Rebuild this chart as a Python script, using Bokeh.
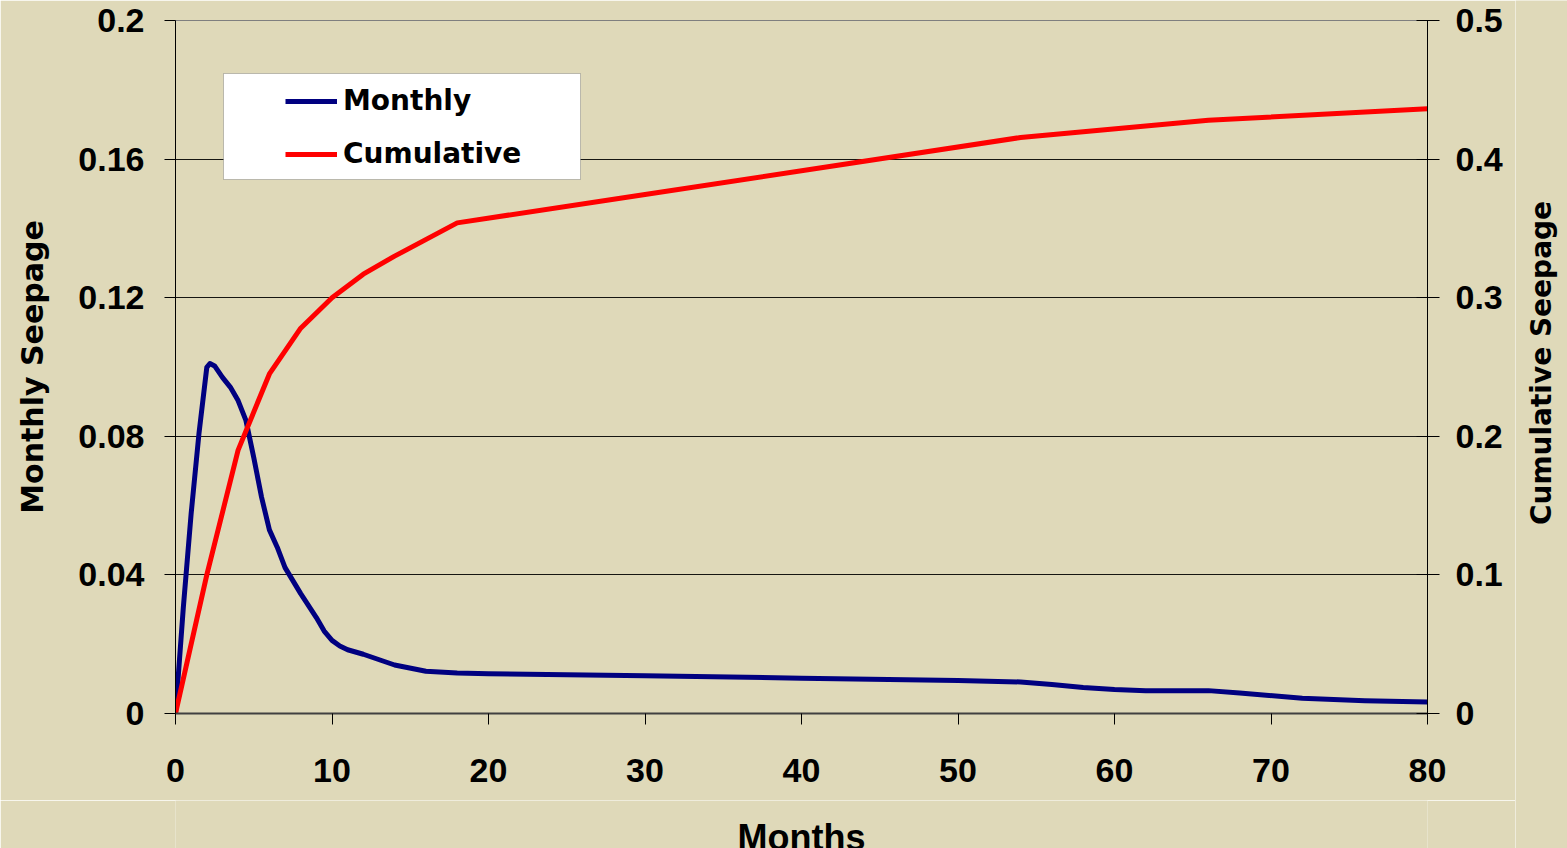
import math
from bokeh.plotting import figure
from bokeh.layouts import row, column
from bokeh.models import (LinearAxis, Range1d, FixedTicker, NumeralTickFormatter,
                          Legend, LegendItem, BoxAnnotation)
from bokeh.core.properties import value
from bokeh.embed import file_html
from bokeh.resources import INLINE

# ---- data ----
monthly_months = [0, 0.5, 1, 1.5, 2, 2.2, 2.5, 3, 3.5, 4, 4.5, 5, 5.5, 6, 6.5, 7, 8, 9,
                  9.5, 10, 10.5, 11, 12, 14, 16, 18, 20, 30, 40, 50, 54, 56, 58, 60,
                  62, 66, 68, 72, 76, 80]
monthly_seepage = [0.0, 0.0306, 0.0577, 0.0808, 0.0999, 0.101, 0.1003, 0.097, 0.0942,
                   0.0903, 0.0846, 0.0739, 0.0624, 0.053, 0.048, 0.0421, 0.0346,
                   0.0277, 0.0238, 0.0211, 0.0195, 0.0184, 0.0171, 0.0140, 0.0122,
                   0.0117, 0.0115, 0.0109, 0.0102, 0.0095, 0.0091, 0.0084, 0.0075,
                   0.0069, 0.0066, 0.0066, 0.0059, 0.0044, 0.0037, 0.0033]

cumulative_months = [0, 2, 4, 6, 8, 10, 12, 14, 18, 30, 42, 54, 66, 80]
cumulative_seepage = [0.0, 0.100, 0.190, 0.245, 0.278, 0.300, 0.317, 0.330, 0.354,
                      0.3745, 0.395, 0.4156, 0.428, 0.4363]

x_ticks = [0, 10, 20, 30, 40, 50, 60, 70, 80]
left_ticks = [0, 0.04, 0.08, 0.12, 0.16, 0.2]
right_ticks = [0, 0.1, 0.2, 0.3, 0.4, 0.5]

x_title = "Months"
left_title = "Monthly Seepage"
right_title = "Cumulative Seepage"

BG = "#DFD9B9"
TICK_FONT = "Liberation Sans"
LABEL_FONT = "DejaVu Sans"

p = figure(width=1515, height=800, output_backend="svg", toolbar_location=None,
           x_range=Range1d(0, 80), y_range=Range1d(0, 0.2),
           min_border_left=175, min_border_right=88, min_border_top=20,
           min_border_bottom=87,
           background_fill_color=BG, border_fill_color=BG)
p.extra_y_ranges = {"cum": Range1d(0, 0.5)}
p.outline_line_color = "#7f7f7f"
p.outline_line_width = 1

p.xgrid.visible = False
p.ygrid.grid_line_color = "black"
p.ygrid.grid_line_width = 1
p.ygrid.grid_line_alpha = 0.9

# bottom axis
xa = p.xaxis[0]
xa.ticker = FixedTicker(ticks=x_ticks)
xa.axis_line_color = "#404040"
xa.axis_line_width = 2
xa.major_tick_in = 0
xa.major_tick_out = 11
xa.major_tick_line_color = "black"
xa.minor_tick_line_color = None
xa.major_label_text_font = TICK_FONT
xa.major_label_text_font_style = "bold"
xa.major_label_text_font_size = "34px"
xa.major_label_text_color = "black"
xa.major_label_standoff = 34

# left axis
ya = p.yaxis[0]
ya.ticker = FixedTicker(ticks=left_ticks)
ya.formatter = NumeralTickFormatter(format="0.[00]")
ya.axis_line_color = "black"
ya.axis_line_width = 1
ya.major_tick_in = 0
ya.major_tick_out = 11
ya.major_tick_line_color = "black"
ya.minor_tick_line_color = None
ya.major_label_text_font = TICK_FONT
ya.major_label_text_font_style = "bold"
ya.major_label_text_font_size = "34px"
ya.major_label_text_color = "black"
ya.major_label_standoff = 20
ya.axis_label = left_title
ya.axis_label_text_font = LABEL_FONT
ya.axis_label_text_font_style = "bold"
ya.axis_label_text_font_size = "30px"
ya.axis_label_text_color = "black"
ya.axis_label_standoff = 25

# right axis
ra = LinearAxis(y_range_name="cum", ticker=FixedTicker(ticks=right_ticks),
                formatter=NumeralTickFormatter(format="0.[0]"))
ra.axis_line_color = "black"
ra.axis_line_width = 1
ra.major_tick_in = 11
ra.major_tick_out = 12
ra.major_tick_line_color = "black"
ra.minor_tick_line_color = None
ra.major_label_text_font = TICK_FONT
ra.major_label_text_font_style = "bold"
ra.major_label_text_font_size = "34px"
ra.major_label_text_color = "black"
ra.major_label_standoff = 16
p.add_layout(ra, "right")

# series
r1 = p.line(monthly_months, monthly_seepage, line_color="#000080", line_width=5,
            line_join="round")
r2 = p.line(cumulative_months, cumulative_seepage, line_color="#FF0000", line_width=5,
            line_join="round", y_range_name="cum")

# legend box + legend
box = BoxAnnotation(left=48, right=405, top=640, bottom=534,
                    left_units="screen", right_units="screen",
                    top_units="screen", bottom_units="screen",
                    fill_color="white", fill_alpha=1.0,
                    line_color="#404040", line_width=1, level="annotation")
p.add_layout(box)

legend = Legend(items=[LegendItem(label="Monthly", renderers=[r1]),
                       LegendItem(label="Cumulative", renderers=[r2])],
                location=(110, 543), padding=0, margin=0, spacing=20,
                glyph_width=52, glyph_height=30, label_height=30, label_standoff=6,
                label_text_font=LABEL_FONT, label_text_font_style="bold",
                label_text_font_size="28px", label_text_color="black",
                background_fill_alpha=0, border_line_alpha=0)
p.add_layout(legend)

# strip under the chart holding the x-axis title (cut by the page edge as in the reference)
pb = figure(width=1515, height=48, output_backend="svg", toolbar_location=None,
            x_range=p.x_range, y_range=Range1d(0, 1),
            x_axis_type=None, y_axis_type=None,
            min_border_left=175, min_border_right=88, min_border_top=0,
            min_border_bottom=0,
            background_fill_color=BG, border_fill_color=BG)
pb.outline_line_color = None
pb.grid.visible = False
pb.text(x=[40], y=[0.23], text=[x_title], text_font=value(TICK_FONT),
        text_font_style="bold", text_font_size="36px", text_color="black",
        text_align="center", text_baseline="alphabetic")

# strip right of the chart holding the right-axis title, reading bottom-to-top
pr = figure(width=52, height=848, output_backend="svg", toolbar_location=None,
            x_range=Range1d(0, 1), y_range=Range1d(0, 1),
            x_axis_type=None, y_axis_type=None,
            min_border=0, min_border_left=0, min_border_right=0,
            min_border_top=0, min_border_bottom=0,
            background_fill_color=BG, border_fill_color=BG)
pr.outline_line_color = None
pr.grid.visible = False
pr.text(x=[0.5], y=[0.5725], text=[right_title], angle=math.pi / 2,
        text_font=value(LABEL_FONT), text_font_style="bold", text_font_size="28px",
        text_color="black", text_align="center", text_baseline="middle")

layout = row(column(p, pb, spacing=0), pr, spacing=0)

open("out.html", "w").write(file_html(layout, INLINE))
